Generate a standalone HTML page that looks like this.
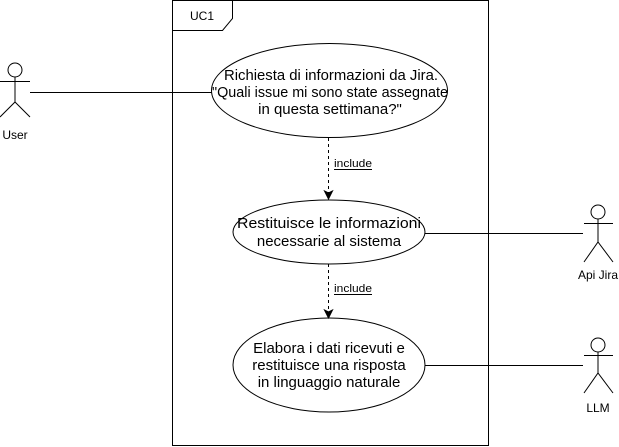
<!DOCTYPE html>
<html><head><style>html,body{margin:0;padding:0;background:#fff;}svg{display:block}</style></head>
<body>
<svg width="619" height="447" xmlns="http://www.w3.org/2000/svg" font-family="Liberation Sans, Arial, sans-serif">
<rect x="0" y="0" width="619" height="447" fill="#fff"/>
<rect x="172.5" y="0.5" width="316" height="445" fill="none" stroke="#000"/>
<path d="M172.5 30.5 H222.5 L232.5 18.5 V0.5" fill="none" stroke="#000"/>
<text x="202" y="20" font-size="12" text-anchor="middle">UC1</text>
<line x1="30" y1="92.5" x2="212" y2="92.5" stroke="#000"/>
<line x1="425" y1="233.5" x2="583" y2="233.5" stroke="#000"/>
<line x1="425" y1="365.5" x2="583" y2="365.5" stroke="#000"/>
<ellipse cx="329.5" cy="90.5" rx="118" ry="47" fill="#fff" stroke="#000"/>
<ellipse cx="329" cy="232" rx="96" ry="32" fill="#fff" stroke="#000"/>
<ellipse cx="329" cy="365" rx="96" ry="47" fill="#fff" stroke="#000"/>
<g font-size="15" text-anchor="middle">
<text x="331" y="80" textLength="214" lengthAdjust="spacingAndGlyphs">Richiesta di informazioni da Jira.</text>
<text x="330" y="97" textLength="236" lengthAdjust="spacingAndGlyphs">"Quali issue mi sono state assegnate</text>
<text x="330" y="114">in questa settimana?"</text>
<text x="329" y="228" textLength="184" lengthAdjust="spacingAndGlyphs">Restituisce le informazioni</text>
<text x="329" y="246">necessarie al sistema</text>
<text x="329" y="353">Elabora i dati ricevuti e</text>
<text x="329" y="370">restituisce una risposta</text>
<text x="329" y="387">in linguaggio naturale</text>
</g>
<line x1="328.5" y1="138" x2="328.5" y2="193" stroke="#000" stroke-dasharray="3 3"/>
<path d="M324.5 191 L328.5 199 L332.5 191 L328.5 193 Z" fill="#000" stroke="#000"/>
<line x1="328.5" y1="264" x2="328.5" y2="312" stroke="#000" stroke-dasharray="3 3"/>
<path d="M324.5 310 L328.5 318 L332.5 310 L328.5 312 Z" fill="#000" stroke="#000"/>
<g font-size="11">
<text x="334" y="167" textLength="38" lengthAdjust="spacingAndGlyphs">include</text><line x1="334" y1="169.5" x2="372" y2="169.5" stroke="#000"/>
<text x="334" y="292" textLength="38" lengthAdjust="spacingAndGlyphs">include</text><line x1="334" y1="294.5" x2="372" y2="294.5" stroke="#000"/>
</g>
<g fill="none" stroke="#000">
<circle cx="15" cy="70" r="7"/><line x1="15" y1="77" x2="15" y2="102"/><line x1="0" y1="81.5" x2="30" y2="81.5"/><path d="M0 117 L15 102 L30 117"/>
<circle cx="598" cy="212" r="7"/><line x1="598" y1="219" x2="598" y2="242"/><line x1="584" y1="223.5" x2="613" y2="223.5"/><path d="M584 262 L598 242 L613 262"/>
<circle cx="598" cy="345" r="7"/><line x1="598" y1="352" x2="598" y2="373"/><line x1="584" y1="355.5" x2="613" y2="355.5"/><path d="M584 393 L598 373 L613 393"/>
</g>
<g font-size="12" text-anchor="middle">
<text x="15" y="139">User</text>
<text x="598" y="279">Api Jira</text>
<text x="598" y="412">LLM</text>
</g>
</svg>
</body></html>
